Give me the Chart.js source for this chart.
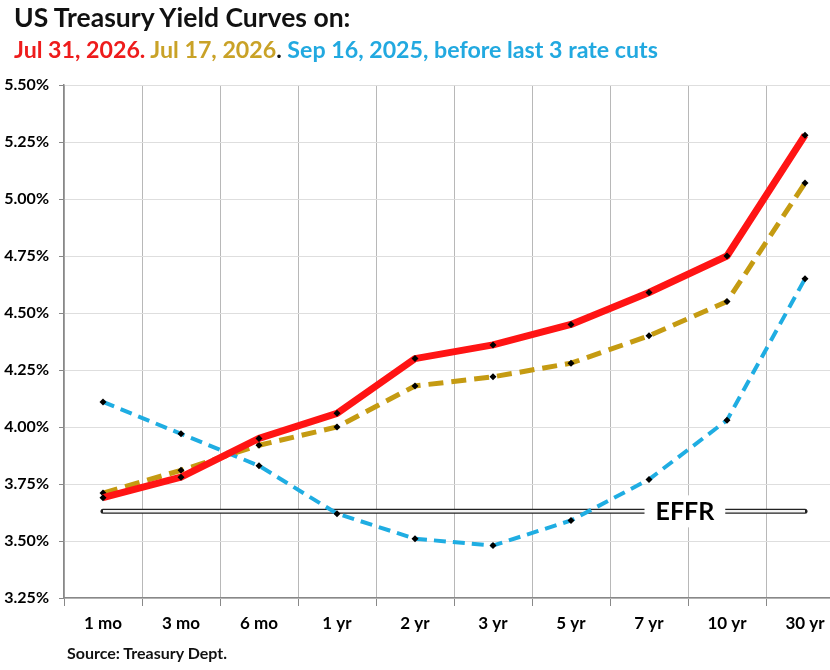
<!DOCTYPE html>
<html>
<head>
<meta charset="utf-8">
<script src="https://cdn.jsdelivr.net/npm/chart.js@4.4.1/dist/chart.umd.min.js"></script>
<style>
  html, body { margin: 0; padding: 0; background: #fff; overflow: hidden; width: 830px; height: 670px; }
  #wrap { position: relative; width: 830px; height: 670px; overflow: hidden; }
  canvas { position: absolute; left: 0; top: 0; }
  .t { position: absolute; font-family: Lato, "Open Sans", sans-serif; font-weight: bold; white-space: nowrap; line-height: 1.2; }
  #title1 { left: 14px; top: 2px; font-size: 26.5px; color: #111; }
  #title2 { left: 14px; top: 36px; font-size: 23.2px; }
  #source { left: 67px; top: 643px; font-size: 16px; color: #111; }
</style>
</head>
<body>
<div id="wrap">
  <canvas id="c" width="850" height="670" style="width:850px;height:670px"></canvas>
  <div class="t" id="title1">US Treasury Yield Curves on:</div>
  <div class="t" id="title2"><span style="color:#EE1C1C">Jul 31, 2026.</span><span style="color:#C9A227"> Jul 17, 2026</span><span style="color:#111">.</span><span style="color:#22A9E0"> Sep 16, 2025, before last 3 rate cuts</span></div>
  <div class="t" id="source">Source: Treasury Dept.</div>
</div>
<script>
const categories = ['1 mo', '3 mo', '6 mo', '1 yr', '2 yr', '3 yr', '5 yr', '7 yr', '10 yr', '30 yr'];
const jul31_2026 = [3.69, 3.78, 3.95, 4.06, 4.30, 4.36, 4.45, 4.59, 4.75, 5.28];
const jul17_2026 = [3.71, 3.81, 3.92, 4.00, 4.18, 4.22, 4.28, 4.40, 4.55, 5.07];
const sep16_2025 = [4.11, 3.97, 3.83, 3.62, 3.51, 3.48, 3.59, 3.77, 4.03, 4.65];
const effrValue = 3.63;
const effrLabel = 'EFFR';
const yMin = 3.25, yMax = 5.50, yStep = 0.25;

const effrSeries = categories.map(() => effrValue);

const effrLabelPlugin = {
  id: 'effrLabel',
  afterDatasetsDraw(chart) {
    const xs = chart.scales.x, ys = chart.scales.y;
    const step = xs.getPixelForValue(1) - xs.getPixelForValue(0);
    const cx = xs.getPixelForValue(7) + step * 0.46;
    const cy = ys.getPixelForValue(effrValue);
    const ctx = chart.ctx;
    ctx.save();
    ctx.font = 'bold 25px Lato, "Open Sans", sans-serif';
    const w = ctx.measureText(effrLabel).width;
    ctx.fillStyle = '#fff';
    ctx.fillRect(cx - w / 2 - 11, cy - 16, w + 22, 32);
    ctx.fillStyle = '#000';
    ctx.textAlign = 'center';
    ctx.textBaseline = 'middle';
    ctx.fillText(effrLabel, cx, cy + 1);
    ctx.restore();
  }
};

const pt = { pointStyle: 'rectRot', pointRadius: 3.5, pointHoverRadius: 3.5, pointBackgroundColor: '#000', pointBorderColor: '#000', pointBorderWidth: 0 };

new Chart(document.getElementById('c'), {
  type: 'line',
  data: {
    labels: categories,
    datasets: [
      Object.assign({ label: 'Jul 31, 2026', data: jul31_2026, borderColor: '#FF1414', borderWidth: 7, tension: 0, borderJoinStyle: 'round' }, pt),
      Object.assign({ label: 'Jul 17, 2026', data: jul17_2026, borderColor: '#C59B12', borderWidth: 5, borderDash: [15, 8], tension: 0 }, pt),
      Object.assign({ label: 'Sep 16, 2025', data: sep16_2025, borderColor: '#1FADE2', borderWidth: 4, borderDash: [12, 7], tension: 0 }, pt),
      { label: 'EFFR inner', data: effrSeries, borderColor: '#f4f4f4', borderWidth: 2.5, pointRadius: 0, tension: 0 },
      { label: 'EFFR', data: effrSeries, borderColor: '#222222', borderWidth: 5, pointRadius: 0, tension: 0, borderCapStyle: 'round' }
    ]
  },
  options: {
    responsive: false,
    animation: false,
    layout: { padding: { top: 85, right: 6, bottom: 0, left: 0 } },
    plugins: { legend: { display: false }, tooltip: { enabled: false }, title: { display: false } },
    scales: {
      x: {
        offset: true,
        grid: { offset: true, color: '#b8b8b8', lineWidth: 1, tickLength: 8, tickColor: '#888', drawTicks: true },
        border: { color: '#888', width: 1.5 },
        ticks: { color: '#000', font: { family: 'Lato', weight: 'bold', size: 17 }, padding: 7, maxRotation: 0, autoSkip: false },
        afterFit(s) { s.height = 72; }
      },
      y: {
        min: yMin, max: yMax,
        grid: { color: '#dedede', lineWidth: 1, tickLength: 5, tickColor: '#888' },
        border: { color: '#888', width: 1.5 },
        ticks: {
          stepSize: yStep, color: '#000', padding: 10,
          font: { family: 'Lato', weight: 'bold', size: 16 },
          callback: v => v.toFixed(2) + '%'
        },
        afterFit(s) { s.width = 64; }
      }
    }
  },
  plugins: [effrLabelPlugin]
});
</script>
</body>
</html>
